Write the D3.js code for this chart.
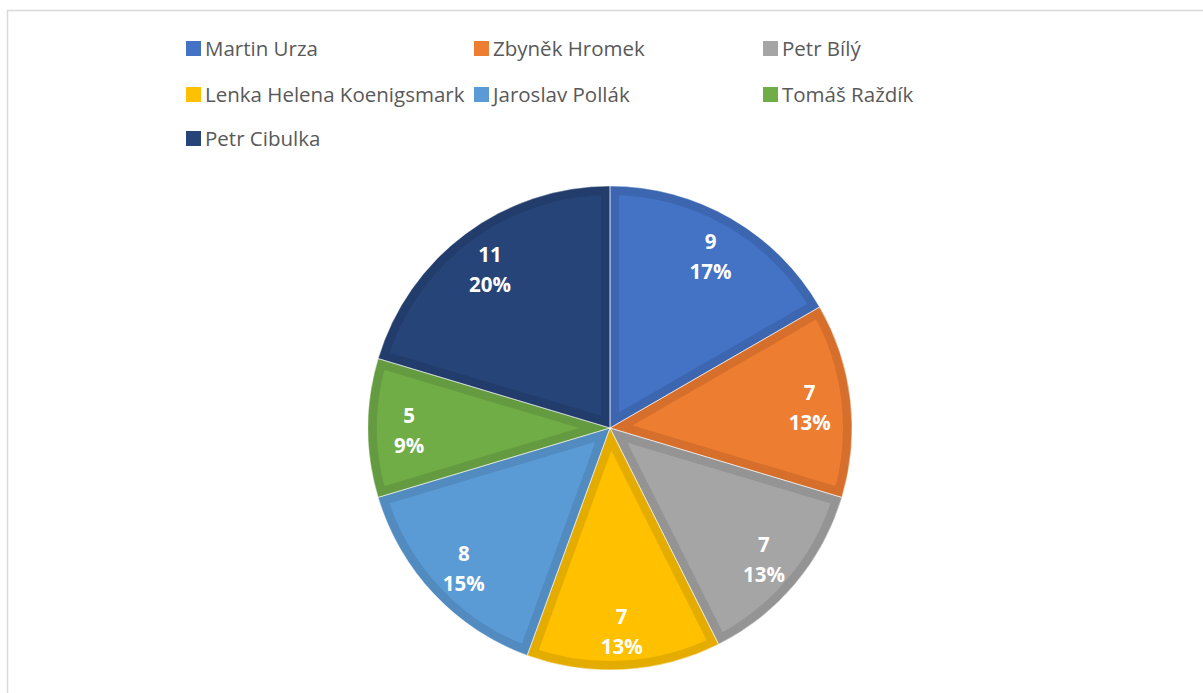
<!DOCTYPE html>
<html>
<head>
<meta charset="utf-8">
<script src="https://cdn.jsdelivr.net/npm/d3@7"></script>
<style>
  body { margin: 0; background: #fff; }
  svg { display: block; }
</style>
</head>
<body>
<svg id="chart" width="1203" height="693"></svg>
<script>
// data
const names = ["Martin Urza", "Zbyněk Hromek", "Petr Bílý", "Lenka Helena Koenigsmark", "Jaroslav Pollák", "Tomáš Raždík", "Petr Cibulka"];
const values = [9, 7, 7, 7, 8, 5, 11];
const fills = ["#4472C4", "#ED7D31", "#A5A5A5", "#FFC000", "#5B9BD5", "#70AD47", "#264478"];
const edges = ["#3D66B1", "#D56F2B", "#949494", "#E5AC00", "#518BC0", "#659B40", "#223D6C"];

const svg = d3.select("#chart");
const font = "'Open Sans', sans-serif";

// chart frame
svg.append("rect")
    .attr("x", 7.5).attr("y", 10.5)
    .attr("width", 1210).attr("height", 700)
    .attr("fill", "none")
    .attr("stroke", "#d9d9d9")
    .attr("stroke-width", 1.5);

// legend
const legendCols = [186, 474, 763];
const legendRows = [48, 94, 138];
const legend = svg.append("g").selectAll("g")
    .data(names)
    .enter().append("g")
    .attr("transform", (d, i) => `translate(${legendCols[i % 3]}, ${legendRows[Math.floor(i / 3)]})`);

legend.append("rect")
    .attr("x", 0).attr("y", -7)
    .attr("width", 15).attr("height", 15)
    .attr("fill", (d, i) => fills[i]);

legend.append("text")
    .attr("x", 19).attr("y", 7.5)
    .attr("font-family", font)
    .attr("font-size", 20.5)
    .attr("fill", "#595959")
    .text(d => d);

// pie
const cx = 610, cy = 428, R = 242;
const pie = d3.pie().sort(null).value(d => d);
const arc = d3.arc().innerRadius(0).outerRadius(R);
const labelArc = d3.arc().innerRadius(201).outerRadius(201);
const total = d3.sum(values);

const g = svg.append("g").attr("transform", `translate(${cx}, ${cy})`);
const defs = svg.append("defs");

const slices = pie(values);

defs.selectAll("clipPath")
    .data(slices)
    .enter().append("clipPath")
    .attr("id", (d, i) => "clip" + i)
    .append("path")
    .attr("d", arc);

g.selectAll(".slice")
    .data(slices)
    .enter().append("path")
    .attr("class", "slice")
    .attr("d", arc)
    .attr("fill", (d, i) => fills[i])
    .attr("stroke", (d, i) => edges[i])
    .attr("stroke-width", 18)
    .attr("stroke-linejoin", "miter")
    .attr("clip-path", (d, i) => `url(#clip${i})`);

// thin separators between slices
g.selectAll(".sep")
    .data(slices)
    .enter().append("path")
    .attr("class", "sep")
    .attr("d", arc)
    .attr("fill", "none")
    .attr("stroke", "#ffffff")
    .attr("stroke-opacity", 0.6)
    .attr("stroke-width", 0.8);

// labels
const labels = g.selectAll(".lbl")
    .data(slices)
    .enter().append("text")
    .attr("class", "lbl")
    .attr("transform", d => `translate(${labelArc.centroid(d)})`)
    .attr("text-anchor", "middle")
    .attr("font-family", font)
    .attr("font-size", 20.5)
    .attr("font-weight", "bold")
    .attr("fill", "#ffffff");

labels.append("tspan")
    .attr("x", 0).attr("y", -5)
    .text(d => d.value);

labels.append("tspan")
    .attr("x", 0).attr("y", 25)
    .text(d => Math.round(d.value / total * 100) + "%");
</script>
</body>
</html>
